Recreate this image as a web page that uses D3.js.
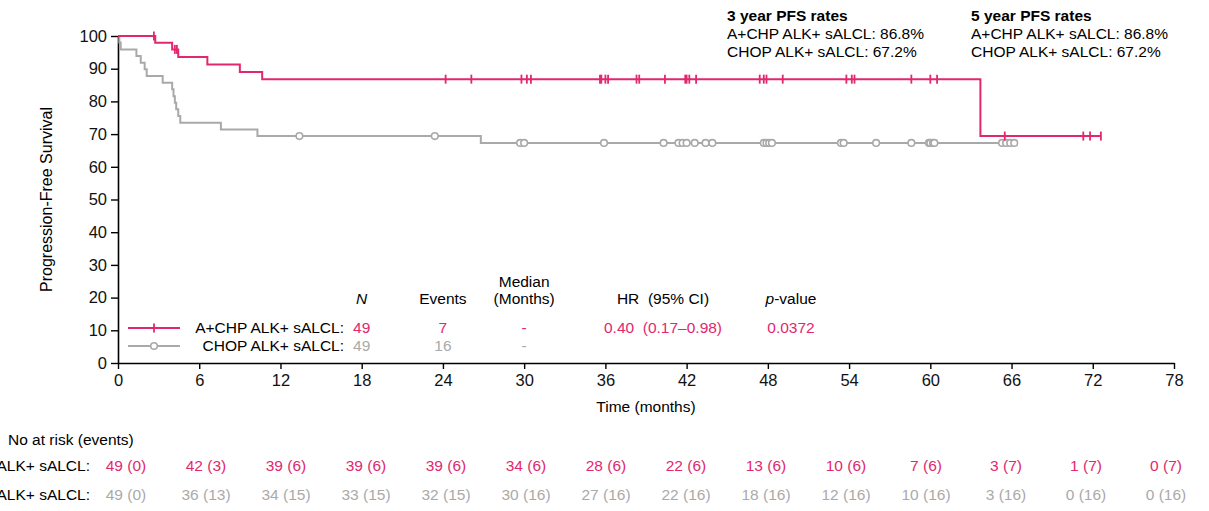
<!DOCTYPE html>
<html>
<head>
<meta charset="utf-8">
<script src="https://cdn.jsdelivr.net/npm/d3@7"></script>
<style>
    body { margin: 0; background: #fff; }
    text { font-family: Arial, "Liberation Sans", sans-serif; font-size: 15.5px; }
</style>
</head>
<body>
<svg id="chart" width="1209" height="511"></svg>
<script>
// step curves (time in months, PFS %)
const acpTimes = [0, 2.75, 4.0, 4.45, 6.6, 9.0, 10.65, 63.7, 72.6];
const acpSurv = [100, 97.9, 95.9, 93.6, 91.3, 89.0, 86.8, 69.4, 69.4];
const acpCensor = [2.65, 4.2, 4.35, 24.2, 26.1, 29.8, 30.2, 30.5, 35.6, 35.7, 36.0, 36.2, 38.3, 38.5,
    40.4, 41.9, 42.0, 42.2, 42.7, 47.4, 47.7, 47.9, 49.1, 53.8, 54.2, 54.4, 58.6, 60.0, 60.5,
    65.5, 71.3, 71.8, 72.6];

const chopTimes = [0, 0.1, 0.2, 1.36, 1.68, 1.97, 2.12, 3.3, 4.0, 4.1, 4.2, 4.3, 4.45, 4.6, 7.6, 10.3, 26.8, 66.2];
const chopSurv = [100, 98.0, 95.9, 93.9, 91.8, 89.8, 87.8, 85.7, 83.7, 81.6, 79.6, 77.6, 75.5, 73.5, 71.4, 69.4, 67.3, 67.3];
const chopCensor = [13.4, 23.4, 29.7, 30.0, 35.9, 40.3, 41.4, 41.7, 42.0, 42.6, 43.4, 43.9, 47.7, 47.9,
    48.1, 48.3, 53.4, 53.6, 56.0, 58.6, 59.9, 60.0, 60.2, 60.3, 65.3, 65.6, 65.9, 66.2];

const xTicks = d3.range(0, 79, 6);
const yTicks = d3.range(0, 101, 10);

const groupNames = ["A+CHP ALK+ sALCL:", "CHOP ALK+ sALCL:"];
const groupN = ["49", "49"];
const groupEvents = ["7", "16"];
const groupMedian = ["-", "-"];
const hrText = "0.40  (0.17\u20130.98)";
const pText = "0.0372";

const riskTimes = d3.range(0, 79, 6);
const acpRisk = [49, 42, 39, 39, 39, 34, 28, 22, 13, 10, 7, 3, 1, 0];
const acpRiskEvents = [0, 3, 6, 6, 6, 6, 6, 6, 6, 6, 6, 7, 7, 7];
const chopRisk = [49, 36, 34, 33, 32, 30, 27, 22, 18, 12, 10, 3, 0, 0];
const chopRiskEvents = [0, 13, 15, 15, 15, 16, 16, 16, 16, 16, 16, 16, 16, 16];

const rateTitles = ["3 year PFS rates", "5 year PFS rates"];
const acpRates = ["86.8%", "86.8%"];
const chopRates = ["67.2%", "67.2%"];

const pink = "#e2276f";
const grey = "#a9a9a9";
const greyText = "#aaaaaa";

const svg = d3.select("#chart");

const x = d3.scaleLinear().domain([0, 78]).range([118, 1174]);
const y = d3.scaleLinear().domain([0, 100]).range([363, 36]);

// axes
const xAxis = svg.append("g")
    .attr("transform", "translate(0," + y(0) + ")")
    .call(d3.axisBottom(x).tickValues(xTicks).tickSize(6).tickPadding(5).tickSizeOuter(0));

const yAxis = svg.append("g")
    .attr("transform", "translate(" + x(0) + ",0)")
    .call(d3.axisLeft(y).tickValues(yTicks).tickSize(7).tickPadding(4).tickSizeOuter(0));

[xAxis, yAxis].forEach(axis => {
    axis.select(".domain").attr("stroke", "#000").attr("stroke-width", 1.6);
    axis.selectAll(".tick line").attr("stroke", "#000").attr("stroke-width", 1.4);
    axis.selectAll(".tick text").attr("fill", "#111").style("font-size", "16.5px");
});

svg.append("text")
    .attr("x", (x(0) + x(78)) / 2)
    .attr("y", 412)
    .attr("text-anchor", "middle")
    .text("Time (months)");

svg.append("text")
    .attr("transform", "translate(52," + (y(50)) + ") rotate(-90)")
    .attr("text-anchor", "middle")
    .style("font-size", "16px")
    .text("Progression-Free Survival");

// curves
const stepLine = d3.line()
    .x(d => x(d[0]))
    .y(d => y(d[1]))
    .curve(d3.curveStepAfter);

function survAt(times, surv, t) {
    const i = d3.bisectRight(times, t) - 1;
    return surv[Math.max(0, i)];
}

svg.append("path")
    .datum(d3.zip(chopTimes, chopSurv))
    .attr("d", stepLine)
    .attr("fill", "none")
    .attr("stroke", grey)
    .attr("stroke-width", 2);

svg.append("path")
    .datum(d3.zip(acpTimes, acpSurv))
    .attr("d", stepLine)
    .attr("fill", "none")
    .attr("stroke", pink)
    .attr("stroke-width", 2);

svg.append("g")
    .selectAll("circle")
    .data(chopCensor)
    .enter()
    .append("circle")
    .attr("cx", d => x(d))
    .attr("cy", d => y(survAt(chopTimes, chopSurv, d)))
    .attr("r", 3.3)
    .attr("fill", "#fff")
    .attr("stroke", grey)
    .attr("stroke-width", 1.6);

svg.append("g")
    .selectAll("line")
    .data(acpCensor)
    .enter()
    .append("line")
    .attr("x1", d => x(d))
    .attr("x2", d => x(d))
    .attr("y1", d => y(survAt(acpTimes, acpSurv, d)) - 4.5)
    .attr("y2", d => y(survAt(acpTimes, acpSurv, d)) + 4.5)
    .attr("stroke", pink)
    .attr("stroke-width", 1.8);

// legend / summary table
const legendRows = [328, 346];
const colors = [pink, greyText];
const headerY = 304;

svg.append("text").attr("x", x(18)).attr("y", headerY).attr("text-anchor", "middle")
    .style("font-style", "italic").text("N");
svg.append("text").attr("x", x(24)).attr("y", headerY).attr("text-anchor", "middle")
    .text("Events");
svg.append("text").attr("x", x(30)).attr("y", headerY - 17).attr("text-anchor", "middle")
    .text("Median");
svg.append("text").attr("x", x(30)).attr("y", headerY).attr("text-anchor", "middle")
    .text("(Months)");
svg.append("text").attr("x", 663).attr("y", headerY).attr("text-anchor", "middle")
    .attr("xml:space", "preserve").text("HR  (95% CI)");
const pHead = svg.append("text").attr("x", 791).attr("y", headerY).attr("text-anchor", "middle");
pHead.append("tspan").style("font-style", "italic").text("p");
pHead.append("tspan").text("-value");

groupNames.forEach((name, i) => {
    const ly = legendRows[i];
    const lineColor = i === 0 ? pink : grey;
    svg.append("line")
        .attr("x1", 128).attr("x2", 180).attr("y1", ly).attr("y2", ly)
        .attr("stroke", lineColor).attr("stroke-width", 2);
    if (i === 0) {
        svg.append("line")
            .attr("x1", 154).attr("x2", 154).attr("y1", ly - 4.5).attr("y2", ly + 4.5)
            .attr("stroke", pink).attr("stroke-width", 1.8);
    } else {
        svg.append("circle")
            .attr("cx", 154).attr("cy", ly).attr("r", 3.3)
            .attr("fill", "#fff").attr("stroke", grey).attr("stroke-width", 1.6);
    }
    svg.append("text").attr("x", 344).attr("y", ly).attr("dy", "0.35em")
        .attr("text-anchor", "end").text(name);
    svg.append("text").attr("x", x(18)).attr("y", ly).attr("dy", "0.35em")
        .attr("text-anchor", "middle").attr("fill", colors[i]).text(groupN[i]);
    svg.append("text").attr("x", x(24)).attr("y", ly).attr("dy", "0.35em")
        .attr("text-anchor", "middle").attr("fill", colors[i]).text(groupEvents[i]);
    svg.append("text").attr("x", x(30)).attr("y", ly).attr("dy", "0.35em")
        .attr("text-anchor", "middle").attr("fill", colors[i]).text(groupMedian[i]);
});

svg.append("text").attr("x", 663).attr("y", legendRows[0]).attr("dy", "0.35em")
    .attr("text-anchor", "middle").attr("fill", pink).attr("xml:space", "preserve")
    .text(hrText);
svg.append("text").attr("x", 791).attr("y", legendRows[0]).attr("dy", "0.35em")
    .attr("text-anchor", "middle").attr("fill", pink).text(pText);

// PFS rate notes
rateTitles.forEach((title, i) => {
    const tx = i === 0 ? 727 : 971;
    svg.append("text").attr("x", tx).attr("y", 21)
        .style("font-weight", "bold").text(title);
    svg.append("text").attr("x", tx).attr("y", 39)
        .text("A+CHP ALK+ sALCL: " + acpRates[i]);
    svg.append("text").attr("x", tx).attr("y", 57)
        .text("CHOP ALK+ sALCL: " + chopRates[i]);
});

// number at risk
const riskX = d3.scaleLinear().domain([0, 78]).range([126, 1166]);

svg.append("text").attr("x", 8).attr("y", 445).text("No at risk (events)");

const riskRows = [
    { label: groupNames[0], risk: acpRisk, events: acpRiskEvents, color: pink, y: 471 },
    { label: groupNames[1], risk: chopRisk, events: chopRiskEvents, color: greyText, y: 500 }
];

riskRows.forEach(row => {
    // row labels run past the left edge, as in the source figure
    svg.append("text").attr("x", 90).attr("y", row.y).attr("text-anchor", "end")
        .text(row.label);
    svg.append("g")
        .selectAll("text")
        .data(riskTimes)
        .enter()
        .append("text")
        .attr("x", d => riskX(d))
        .attr("y", row.y)
        .attr("text-anchor", "middle")
        .attr("fill", row.color)
        .text((d, i) => row.risk[i] + " (" + row.events[i] + ")");
});
</script>
</body>
</html>
